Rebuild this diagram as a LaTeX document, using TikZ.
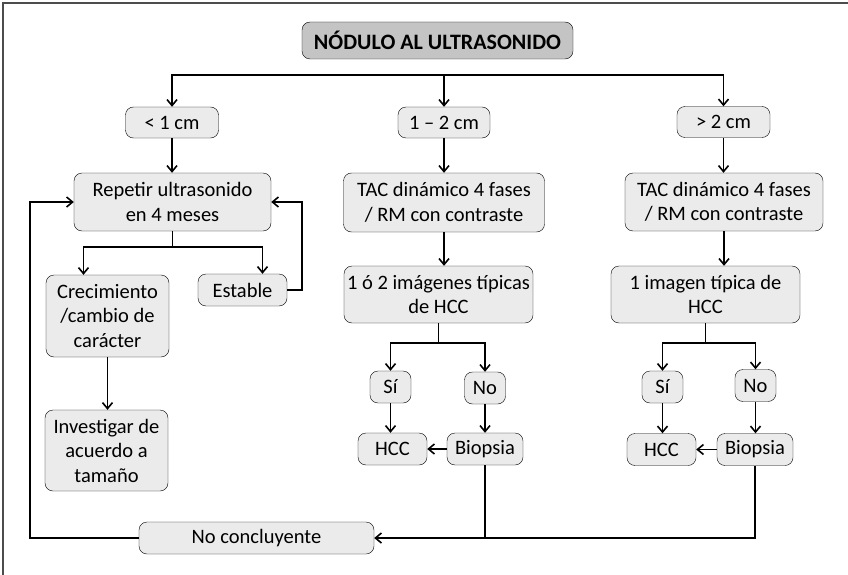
\documentclass[tikz,border=0pt]{standalone}
\usepackage{fontspec}
\setmainfont{Carlito}
\usepackage{xcolor}
\usepackage{tikz}
\usetikzlibrary{arrows.meta,positioning,calc}
\definecolor{boxgray}{HTML}{EBEBEB}
\definecolor{titlegray}{HTML}{C4C4C4}

\begin{document}
\begin{tikzpicture}[x=1pt,y=-1pt,
  every node/.style={font=\fontsize{20.5}{24.5}\selectfont},
  bx/.style={draw,rounded corners=8pt,fill=boxgray,align=center,inner sep=0pt},
  ttl/.style={bx,fill=titlegray,font=\fontsize{22}{26}\selectfont\bfseries},
  ln/.style={line width=1.6pt},
  ar/.style={ln,-{Straight Barb[length=6pt,width=10pt]}}]
 \useasboundingbox (0,0) rectangle (848,575);
 \draw[line width=1.5pt,black!70] (3,575) -- (3,3) -- (848,3);
 \node[ttl,minimum width=271pt,minimum height=37pt] (nod) at (437.5,40.5) {NÓDULO AL ULTRASONIDO};
 \node[bx,minimum width=93pt,minimum height=31pt] (lt1) at (172,122.5) {< 1 cm};
 \node[bx,minimum width=92pt,minimum height=31pt] (mid) at (444,122.5) {1 – 2 cm};
 \node[bx,minimum width=93pt,minimum height=31pt] (gt2) at (723.5,122) {> 2 cm};
 \node[bx,minimum width=197pt,minimum height=58pt] (rep) at (172.5,202) {Repetir ultrasonido\\en 4 meses};
 \node[bx,minimum width=201pt,minimum height=59pt] (tac1) at (444,202.5) {TAC dinámico 4 fases\\/ RM con contraste};
 \node[bx,minimum width=198pt,minimum height=58pt] (tac2) at (724,202) {TAC dinámico 4 fases\\/ RM con contraste};
 \node[bx,minimum width=123pt,minimum height=82pt] (crec) at (107.5,316) {Crecimiento\\/cambio de\\carácter};
 \node[bx,minimum width=89pt,minimum height=32pt] (est) at (242.5,290) {Estable};
 \node[bx,minimum width=123pt,minimum height=81pt] (inv) at (106.5,450.5) {Investigar de\\acuerdo a\\tamaño};
 \node[bx,minimum width=189pt,minimum height=57pt] (img1) at (438.5,294.5) {1 ó 2 imágenes típicas\\de HCC};
 \node[bx,minimum width=189pt,minimum height=57pt] (img2) at (705.5,294.5) {1 imagen típica de\\HCC};
 \node[bx,minimum width=41pt,minimum height=32pt] (si1) at (390.5,387) {Sí};
 \node[bx,minimum width=41pt,minimum height=32pt] (no1) at (485,388) {No};
 \node[bx,minimum width=69pt,minimum height=32pt] (hcc1) at (392.5,449) {HCC};
 \node[bx,minimum width=76pt,minimum height=32pt] (bio1) at (485,449) {Biopsia};
 \node[bx,minimum width=41pt,minimum height=32pt] (si2) at (662.5,387) {Sí};
 \node[bx,minimum width=41pt,minimum height=32pt] (no2) at (755.5,385.5) {No};
 \node[bx,minimum width=69pt,minimum height=32pt] (hcc2) at (661.5,449.5) {HCC};
 \node[bx,minimum width=76pt,minimum height=32pt] (bio2) at (755,449.5) {Biopsia};
 \node[bx,minimum width=235pt,minimum height=32pt] (nc) at (256.5,538) {No concluyente};
 \coordinate (top) at (0,75);
 \coordinate (spl) at (0,247);
 \coordinate (b1) at (0,343);
 % size split
 \draw[ar] (mid |- top) -| (lt1.north);
 \draw[ar] (mid |- top) -| (gt2.north);
 \draw[ar] (mid |- top) -- (mid.north);
 \foreach \a/\b in {lt1/rep,mid/tac1,gt2/tac2,tac1/img1,tac2/img2,crec/inv,si1/hcc1,no1/bio1,si2/hcc2,no2/bio2}
   \draw[ar] (\a.south) -- (\a.south |- \b.north);
 % ultrasound follow-up
 \draw[ar] (rep.south) -- (rep.south |- spl) -| ([xshift=-24pt]crec.north);
 \draw[ar] (rep.south |- spl) -| ([xshift=20pt]est.north);
 \draw[ar] (est.east) -- ++(15,0) |- (rep.east);
 \draw[ar] (nc.west) -- ++(-109,0) |- (rep.west);
 % typical images
 \foreach \i/\s/\n in {img1/si1/no1,img2/si2/no2} {
   \draw[ar] (\i.south) -- (\i.south |- b1) -| (\s.north);
   \draw[ar] (\i.south |- b1) -| (\n.north);
 }
 \draw[ar] (bio1.west) -- (hcc1.east);
 \draw[ar] (bio2.west) -- (hcc2.east);
 \draw[ar] (bio2.south) |- (nc.east);
 \draw[ln] (bio1.south) -- (bio1.south |- nc.east);
\end{tikzpicture}
\end{document}
